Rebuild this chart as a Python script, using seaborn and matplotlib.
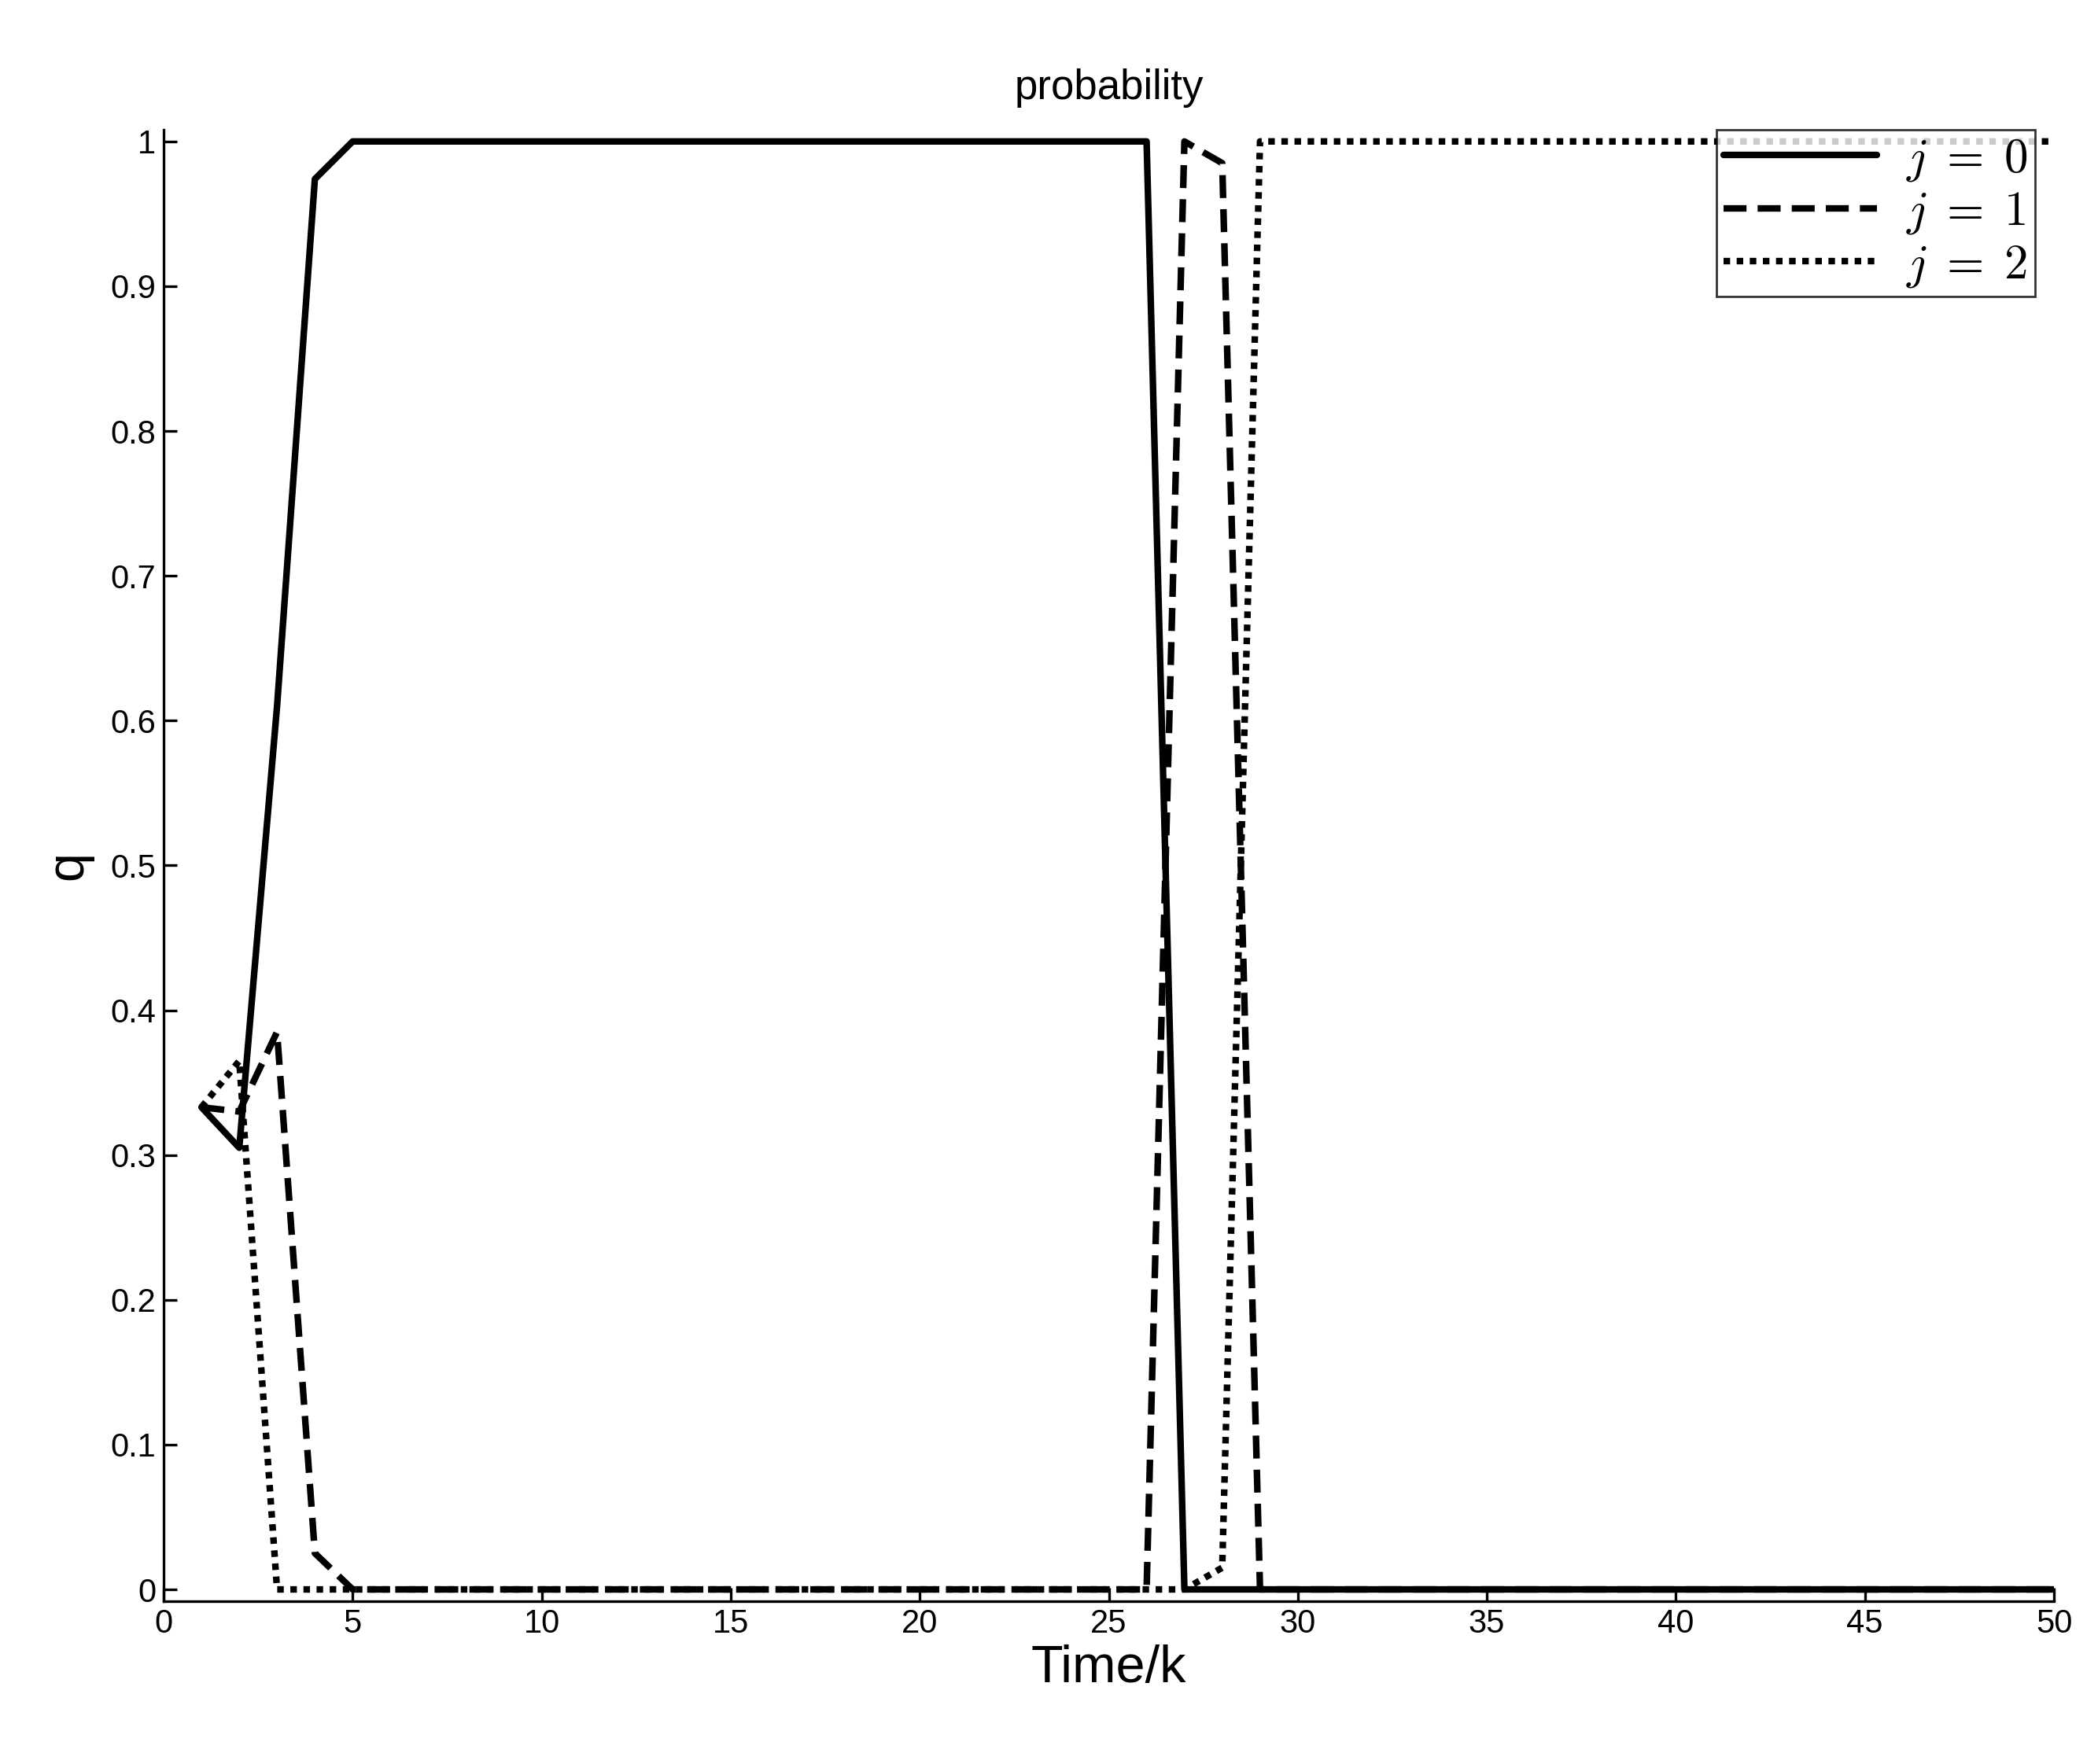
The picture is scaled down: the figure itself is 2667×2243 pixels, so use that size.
import numpy as np
import pandas as pd
import seaborn as sns
import matplotlib.pyplot as plt

k = list(range(1, 51))
q0 = [0.333, 0.305, 0.61, 0.974] + [1.0] * 22 + [0.0] * 24
q1 = [0.333, 0.33, 0.385, 0.025] + [0.0] * 22 + [1.0, 0.985] + [0.0] * 22
q2 = [0.333, 0.365] + [0.0] * 25 + [0.015] + [1.0] * 22
labels = [r"$j\;=\;0$", r"$j\;=\;1$", r"$j\;=\;2$"]

df = pd.DataFrame({"k": k * 3, "q": q0 + q1 + q2,
                   "j": [labels[0]] * 50 + [labels[1]] * 50 + [labels[2]] * 50})

sns.set_style("white")
plt.rcParams["font.family"] = ["Liberation Sans", "DejaVu Sans"]
plt.rcParams["mathtext.fontset"] = "cm"
plt.rcParams["text.color"] = "black"
plt.rcParams["axes.labelcolor"] = "black"
plt.rcParams["xtick.color"] = "black"
plt.rcParams["ytick.color"] = "black"

fig = plt.figure(figsize=(13.335, 11.215), dpi=200)
ax = fig.add_axes([0.078, 0.0924, 0.901, 0.834])
styles = {labels[0]: "-", labels[1]: (0, (3.5, 1.7)), labels[2]: (0, (1, 1))}
for lab in labels:
    sub = df[df.j == lab]
    sns.lineplot(data=sub, x="k", y="q", ax=ax, color="black", linewidth=3,
                 linestyle=styles[lab], label=lab)

ax.set_xlim(0, 50)
ax.set_ylim(-0.008, 1.008)
ax.set_xticks(range(0, 51, 5))
ax.set_yticks(np.round(np.arange(0, 1.01, 0.1), 1))
ax.set_yticklabels(["0", "0.1", "0.2", "0.3", "0.4", "0.5", "0.6", "0.7", "0.8", "0.9", "1"])
ax.tick_params(direction="in", length=6, width=1.2, labelsize=15, left=True, bottom=True)
for s in ["top", "right"]:
    ax.spines[s].set_visible(False)
for s in ["left", "bottom"]:
    ax.spines[s].set_color("black")
    ax.spines[s].set_linewidth(1.2)
ax.set_xlabel("Time/k", fontsize=24, labelpad=2)
ax.set_ylabel("q", fontsize=24, labelpad=8)
ax.set_title("probability", fontsize=19, pad=14)
leg = ax.legend(loc="upper right", bbox_to_anchor=(0.99, 1.0), fontsize=22, frameon=True,
                fancybox=False, edgecolor="black", borderaxespad=0.0, handlelength=3.2,
                labelspacing=0.15, borderpad=0.15, handletextpad=0.6)
leg.get_frame().set_linewidth(1)

fig.savefig("out.png", dpi=200)
